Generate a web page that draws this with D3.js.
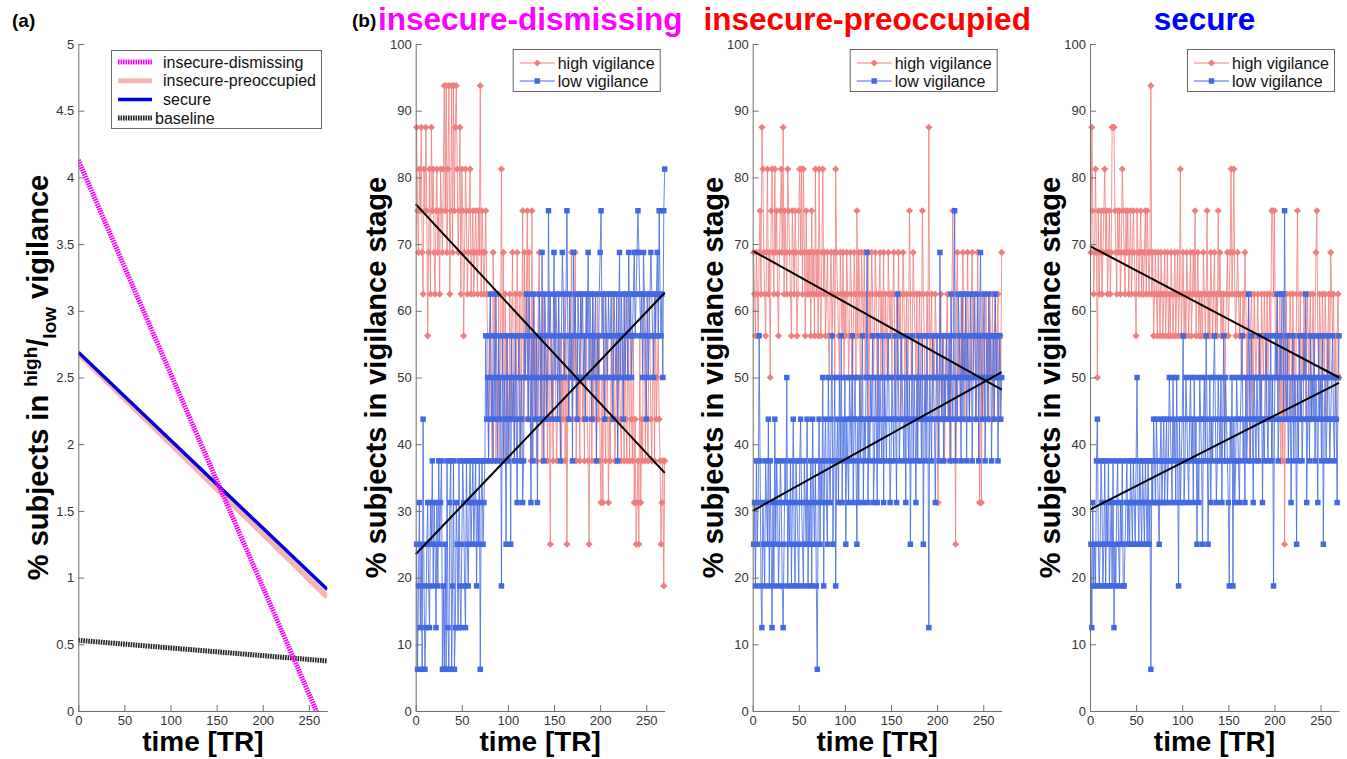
<!DOCTYPE html>
<html lang="en">
<head>
<meta charset="utf-8">
<title>Vigilance stages over time by attachment group</title>
<script src="https://d3js.org/d3.v7.min.js"></script>
<style>
  body { margin: 0; background: #fff; }
  svg { display: block; font-family: "Liberation Sans", Arial, sans-serif; }
  .axis path, .axis line { stroke: #707070; }
  .axis text { fill: #333; font-size: 13px; font-family: "Liberation Sans", Arial, sans-serif; }
</style>
</head>
<body>
<script>
// ---- data ----
var timeTicks = [0, 50, 100, 150, 200, 250];
var ratioTicks = [0, 0.5, 1, 1.5, 2, 2.5, 3, 3.5, 4, 4.5, 5];
var pctTicks = [0, 10, 20, 30, 40, 50, 60, 70, 80, 90, 100];

// panel (a): fitted high/low ratio at t=0 and t=270
var ratioGroups = ["insecure-dismissing", "insecure-preoccupied", "secure", "baseline"];
var ratioStart = [4.13, 2.68, 2.69, 0.53];
var ratioEnd = [-0.19, 0.855, 0.91, 0.375];

// panel (b): number of subjects (out of 16) in each stage, one value per TR
var nSubjects = 16;
var groupNames = ["insecure-dismissing", "insecure-preoccupied", "secure"];

var highDismissing = [
  14,12,11,13,12,14,11,10,13,12,14,12,9,11,13,10,14,12,13,11,10,12,13,11,12,10,13,12,11,13,
  15,12,15,11,13,15,10,12,15,11,15,12,14,15,13,11,12,14,10,13,12,9,11,13,12,10,11,12,13,10,
  11,12,10,11,12,11,10,12,11,15,10,12,11,10,11,12,10,9,6,8,10,7,6,11,9,10,6,8,7,10,
  6,9,13,8,11,6,10,7,9,8,6,10,7,9,11,8,6,10,7,11,9,8,10,6,9,12,7,11,8,10,
  12,7,11,9,6,12,8,10,7,9,6,8,10,11,7,9,6,8,10,7,9,8,6,10,7,4,9,8,6,10,
  9,7,6,8,10,7,9,6,8,7,10,6,9,4,8,7,10,9,11,7,9,8,11,6,9,7,8,6,10,9,
  7,8,6,9,10,7,6,4,8,9,6,10,7,9,8,6,10,7,9,6,5,8,5,10,7,6,9,8,5,7,
  6,9,7,10,8,6,7,9,6,10,8,7,6,9,8,6,10,7,6,9,8,6,10,7,6,9,5,7,4,5,
  6,4,9,5,7,6,10,9,6,8,7,6,10,9,7,6,8,9,6,10,7,8,9,7,6,4,5,6,3,6
];
var lowDismissing = [
  4,1,3,5,2,4,1,7,3,1,2,4,5,3,2,5,4,6,3,5,4,2,5,3,6,4,5,6,1,3,
  1,4,1,6,2,1,5,6,1,3,6,1,2,5,4,2,6,3,2,4,6,5,3,2,6,4,3,5,6,4,
  5,6,4,5,6,3,5,4,6,1,5,6,4,5,6,9,7,8,6,9,10,7,8,6,9,7,10,8,6,9,
  7,8,3,9,6,8,7,4,9,6,7,8,4,9,7,8,6,9,7,5,8,9,6,7,8,5,6,9,8,10,
  9,7,10,8,5,9,6,10,8,7,9,5,8,10,9,7,11,8,6,10,9,7,8,12,9,10,8,7,9,11,
  8,10,9,7,10,8,6,9,11,10,8,9,10,12,9,7,10,8,9,6,11,9,10,8,7,10,9,8,10,9,
  10,8,9,7,10,9,11,8,10,9,7,10,8,9,10,6,9,8,10,11,12,9,10,8,7,10,9,8,10,9,
  9,10,8,7,10,9,8,10,6,9,11,8,10,9,7,10,8,9,10,8,11,9,10,8,9,10,11,9,10,11,
  12,11,10,9,10,8,11,10,9,7,10,8,9,10,11,10,9,8,10,9,10,11,9,12,10,9,10,8,12,13
];
var highPreoccupied = [
  11,10,9,11,10,9,11,12,10,14,13,11,10,9,11,13,10,11,8,12,13,11,10,13,11,12,10,9,11,12,
  13,11,14,10,12,11,10,13,12,11,10,9,12,11,10,12,11,9,10,12,13,11,13,10,13,11,9,12,10,11,
  10,11,9,12,10,11,9,13,10,11,9,13,10,9,11,13,10,11,9,10,11,9,8,10,11,9,10,11,8,13,
  11,10,9,8,11,10,9,11,8,10,9,11,10,8,9,11,10,7,9,11,10,8,12,9,11,10,7,11,10,9,
  11,8,10,9,11,7,10,9,11,10,8,9,11,10,7,9,10,11,8,10,9,11,7,10,9,8,11,10,9,10,
  8,10,11,9,7,10,8,11,9,10,7,9,11,10,8,9,10,7,9,12,10,8,9,11,10,9,8,10,7,9,
  10,8,9,12,10,9,7,8,10,9,14,8,9,10,7,9,8,10,9,7,5,8,9,10,7,8,9,6,8,9,
  10,8,7,9,6,10,12,9,8,4,10,11,8,9,7,10,8,11,9,7,10,8,11,9,7,8,10,11,8,9,
  10,7,9,11,8,5,9,5,10,8,7,9,10,8,9,7,10,9,8,10,7,9,10,8,9,10,7,9,8,11
];
var lowPreoccupied = [
  4,5,3,6,4,5,9,6,3,2,5,4,3,6,5,4,7,3,6,4,2,5,3,7,4,6,5,3,4,6,
  5,3,2,4,6,5,8,3,5,4,6,3,5,7,4,3,6,5,4,3,6,7,5,4,3,6,5,4,7,3,
  5,4,6,3,7,5,4,6,3,1,5,7,4,6,5,8,3,6,7,5,4,8,6,5,7,9,4,6,8,3,
  6,7,5,8,6,9,5,7,6,8,4,7,6,5,8,7,6,9,5,7,8,6,4,7,5,8,6,7,9,5,
  7,6,8,11,5,7,6,8,7,9,5,6,8,7,5,9,6,8,7,6,9,5,8,7,6,8,9,7,5,6,
  8,7,6,9,7,5,10,8,6,7,9,8,7,6,8,5,9,7,6,8,4,7,9,6,8,7,5,8,6,9,
  7,8,6,9,4,7,8,6,9,7,2,8,7,6,9,8,7,5,8,9,7,6,11,8,7,9,6,8,7,9,
  8,7,9,6,10,8,7,9,12,6,8,7,10,9,8,6,10,7,9,8,10,6,9,8,7,10,9,6,8,10,
  9,7,8,10,6,9,11,8,7,9,10,6,8,9,7,10,8,9,6,8,9,7,10,8,9,6,8,9,7,8
];
var highSecure = [
  11,14,12,10,11,13,11,8,12,10,11,12,10,11,12,13,11,12,10,11,12,10,11,14,14,14,12,11,10,12,
  11,12,10,11,13,12,11,10,12,11,12,10,11,12,10,11,12,11,10,9,12,11,10,11,12,10,11,10,11,12,
  10,12,11,10,11,15,10,11,9,10,11,10,9,11,10,9,11,10,9,10,11,9,10,11,9,10,9,11,10,9,
  10,11,9,10,11,9,10,13,9,10,11,9,10,9,11,10,9,10,11,9,10,11,10,12,9,10,11,9,10,9,
  10,9,11,10,9,10,12,9,10,9,11,10,9,10,11,9,10,9,12,10,11,9,10,9,10,6,9,10,11,9,
  10,11,13,10,11,13,10,9,10,11,10,9,10,8,9,10,9,11,10,7,9,10,6,9,10,9,7,10,9,8,
  9,10,8,9,7,10,9,8,10,9,7,10,8,9,10,9,12,12,10,12,9,8,10,7,9,10,6,9,6,10,
  4,9,10,7,9,8,10,9,7,10,8,9,7,10,12,9,8,10,7,9,8,10,9,7,9,10,8,9,10,7,
  9,10,8,9,11,12,9,8,10,9,7,10,9,8,10,9,7,9,10,8,11,10,9,10,8,9,7,9,10,8
];
var lowSecure = [
  4,2,5,3,4,3,6,7,4,3,4,6,5,3,4,6,3,5,4,6,3,4,5,3,6,2,4,3,5,6,
  4,3,5,4,6,3,3,4,5,6,4,5,4,6,5,4,6,5,4,6,8,5,4,6,5,4,6,5,4,6,
  5,4,6,4,5,1,6,5,7,6,5,7,6,5,4,6,7,5,6,7,5,6,7,5,6,8,7,6,5,8,
  6,7,5,8,6,3,7,5,6,7,9,5,6,8,7,6,5,7,8,6,7,5,8,6,7,4,6,5,8,7,
  6,4,7,8,6,9,7,4,6,8,5,7,6,8,9,7,5,6,8,7,6,8,5,7,9,6,8,7,6,5,
  3,7,6,8,3,7,5,6,8,7,6,5,7,8,9,6,7,5,8,6,7,10,8,6,9,7,5,8,7,6,
  8,7,6,9,7,8,5,7,6,8,9,7,6,8,7,9,6,8,3,7,9,8,10,6,7,9,8,10,10,7,
  12,8,7,9,6,7,8,5,7,9,6,8,7,4,8,6,9,7,8,6,7,9,8,10,5,7,8,6,9,7,
  8,7,9,6,8,7,5,9,7,8,6,9,4,7,8,6,7,9,8,6,7,8,9,7,6,8,7,5,8,9
];

// regression lines, % at t=0 and t=270
var fitHigh = [[76, 35.7], [69, 48.2], [69.7, 50]];
var fitLow = [[23.5, 62.7], [30, 50.8], [30.2, 49.2]];

// ---- layout ----
var w = 1347;
var h = 759;
var plotTop = 44;
var plotBottom = 711;
var plotW = 249;
var panelLeft = [78.3, 415.7, 752.7, 1090];
var highColor = "#EF7F7F";
var lowColor = "#4169E1";
var titleColors = ["#FF00FF", "#FF0000", "#0000FF"];
var ratioColors = ["#FF00FF", "#F7B4B4", "#0000DD", "#222"];

var svg = d3.select("body")
  .append("svg")
  .attr("width", w)
  .attr("height", h);

function drawAxes(x, y, yTicks) {
  svg.append("g")
    .attr("class", "axis")
    .attr("transform", "translate(0," + plotBottom + ")")
    .call(d3.axisBottom(x).tickValues(timeTicks).tickSizeInner(-6).tickSizeOuter(0).tickPadding(5));
  svg.append("g")
    .attr("class", "axis")
    .attr("transform", "translate(" + x.range()[0] + ",0)")
    .call(d3.axisLeft(y).tickValues(yTicks).tickSizeInner(-6).tickSizeOuter(0).tickPadding(4).tickFormat(function(d) { return d; }));

  svg.append("text")
    .attr("x", (x.range()[0] + x.range()[1]) / 2)
    .attr("y", 751)
    .attr("text-anchor", "middle")
    .attr("font-weight", "bold")
    .attr("font-size", 28)
    .text("time [TR]");
}

// ---- panel (a) ----
var xa = d3.scaleLinear().domain([0, 270]).range([panelLeft[0], panelLeft[0] + plotW]);
var ya = d3.scaleLinear().domain([0, 5]).range([plotBottom, plotTop]);

svg.append("clipPath")
  .attr("id", "clipA")
  .append("rect")
  .attr("x", xa(0)).attr("y", ya(5))
  .attr("width", xa(270) - xa(0)).attr("height", ya(0) - ya(5));

var ratioOrder = [3, 1, 2, 0];
svg.append("g")
  .attr("clip-path", "url(#clipA)")
  .selectAll("line")
  .data(ratioOrder)
  .enter()
  .append("line")
  .attr("x1", xa(0))
  .attr("x2", xa(270))
  .attr("y1", function(i) { return ya(ratioStart[i]); })
  .attr("y2", function(i) { return ya(ratioEnd[i]); })
  .attr("stroke", function(i) { return ratioColors[i]; })
  .attr("stroke-width", function(i) { return i == 2 ? 3.5 : (i == 1 ? 5.5 : 5); })
  .attr("stroke-dasharray", function(i) { return (i == 0 || i == 3) ? "1.6,0.9" : null; });

drawAxes(xa, ya, ratioTicks);

// legend (a)
var legA = svg.append("g");
legA.append("rect")
  .attr("x", 111.5).attr("y", 50.5).attr("width", 210).attr("height", 78)
  .attr("fill", "#fff").attr("stroke", "#666");
ratioGroups.forEach(function(name, i) {
  var ry = 62 + i * 18.7;
  legA.append("line")
    .attr("x1", 118).attr("x2", 152).attr("y1", ry).attr("y2", ry)
    .attr("stroke", ratioColors[i])
    .attr("stroke-width", i == 2 ? 3.5 : 5)
    .attr("stroke-dasharray", (i == 0 || i == 3) ? "1.6,0.9" : null);
  legA.append("text")
    .attr("x", name == "baseline" ? 155 : 163)
    .attr("y", ry + 5.5)
    .attr("font-size", 16)
    .attr("fill", "#111")
    .text(name);
});

// y label (a) with high/low as super/subscript
var labA = svg.append("text")
  .attr("transform", "translate(" + (panelLeft[0] - 40) + "," + ((plotTop + plotBottom) / 2) + ") rotate(-90)")
  .attr("text-anchor", "middle")
  .attr("dy", "0.35em")
  .attr("font-weight", "bold")
  .attr("font-size", 29);
labA.append("tspan").text("% subjects in ");
labA.append("tspan").attr("dy", -11).attr("font-size", 19).text("high");
labA.append("tspan").attr("dy", 11).text("/");
labA.append("tspan").attr("dy", 8).attr("font-size", 19).text("low");
labA.append("tspan").attr("dy", -8).text(" vigilance");

svg.append("text")
  .attr("x", 12).attr("y", 27)
  .attr("font-weight", "bold").attr("font-size", 19)
  .text("(a)");
svg.append("text")
  .attr("x", 352).attr("y", 27)
  .attr("font-weight", "bold").attr("font-size", 19)
  .text("(b)");

// ---- panels (b) ----
var highSeries = [highDismissing, highPreoccupied, highSecure];
var lowSeries = [lowDismissing, lowPreoccupied, lowSecure];

var diamond = d3.symbol().type(d3.symbolSquare).size(26);
var square = d3.symbol().type(d3.symbolSquare).size(30);

groupNames.forEach(function(name, k) {
  var left = panelLeft[k + 1];
  var x = d3.scaleLinear().domain([0, 270]).range([left, left + plotW]);
  var y = d3.scaleLinear().domain([0, 100]).range([plotBottom, plotTop]);
  var pct = function(c) { return c * 100 / nSubjects; };
  var line = d3.line()
    .x(function(d, i) { return x(i + 1); })
    .y(function(d) { return y(pct(d)); });

  var g = svg.append("g");

  // high vigilance
  g.append("path")
    .datum(highSeries[k])
    .attr("d", line)
    .attr("fill", "none")
    .attr("stroke", highColor)
    .attr("stroke-width", 0.9)
    .attr("stroke-opacity", 0.9);
  g.selectAll(".hi")
    .data(highSeries[k])
    .enter()
    .append("path")
    .attr("class", "hi")
    .attr("d", diamond)
    .attr("transform", function(d, i) { return "translate(" + x(i + 1) + "," + y(pct(d)) + ") rotate(45)"; })
    .attr("fill", highColor);

  // low vigilance
  g.append("path")
    .datum(lowSeries[k])
    .attr("d", line)
    .attr("fill", "none")
    .attr("stroke", lowColor)
    .attr("stroke-width", 0.9)
    .attr("stroke-opacity", 0.9);
  g.selectAll(".lo")
    .data(lowSeries[k])
    .enter()
    .append("path")
    .attr("class", "lo")
    .attr("d", square)
    .attr("transform", function(d, i) { return "translate(" + x(i + 1) + "," + y(pct(d)) + ")"; })
    .attr("fill", lowColor);

  // regression lines
  [fitHigh[k], fitLow[k]].forEach(function(f) {
    g.append("line")
      .attr("x1", x(0)).attr("x2", x(270))
      .attr("y1", y(f[0])).attr("y2", y(f[1]))
      .attr("stroke", "#000")
      .attr("stroke-width", 2);
  });

  drawAxes(x, y, pctTicks);

  // legend
  var lg = svg.append("g").attr("transform", "translate(" + left + ",0)");
  lg.append("rect")
    .attr("x", 97.5).attr("y", 49.5).attr("width", 147).attr("height", 42)
    .attr("fill", "#fff").attr("stroke", "#666");
  [["high vigilance", highColor, diamond, 45], ["low vigilance", lowColor, square, 0]].forEach(function(e, i) {
    var ry = 63 + i * 18;
    lg.append("line")
      .attr("x1", 104).attr("x2", 139).attr("y1", ry).attr("y2", ry)
      .attr("stroke", e[1]).attr("stroke-width", 1);
    lg.append("path")
      .attr("d", e[2])
      .attr("transform", "translate(121.5," + ry + ") rotate(" + e[3] + ")")
      .attr("fill", e[1]);
    lg.append("text")
      .attr("x", 142).attr("y", ry + 5.5)
      .attr("font-size", 16)
      .attr("fill", "#111")
      .text(e[0]);
  });

  // y label
  svg.append("text")
    .attr("transform", "translate(" + (left - 40) + "," + ((plotTop + plotBottom) / 2) + ") rotate(-90)")
    .attr("text-anchor", "middle")
    .attr("dy", "0.35em")
    .attr("font-weight", "bold")
    .attr("font-size", 29)
    .text("% subjects in vigilance stage");

  // title
  svg.append("text")
    .attr("x", left + plotW / 2 - 10)
    .attr("y", 30)
    .attr("text-anchor", "middle")
    .attr("font-weight", "bold")
    .attr("font-size", 31.5)
    .attr("fill", titleColors[k])
    .text(name);
});
</script>
</body>
</html>
